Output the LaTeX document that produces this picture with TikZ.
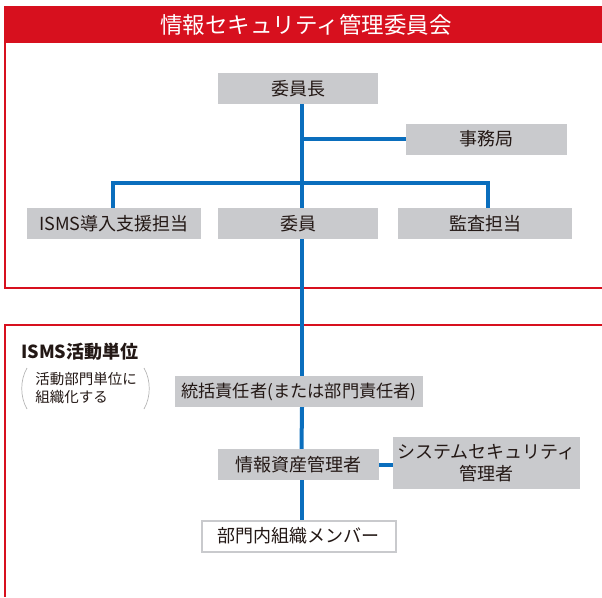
\documentclass[tikz,border=0pt]{standalone}
\usepackage{fontspec}
\setmainfont{Noto Sans CJK JP}
\usetikzlibrary{calc}
\definecolor{jred}{HTML}{D7101E}
\definecolor{jgray}{HTML}{C9CACD}
\definecolor{jblue}{HTML}{0A6EBD}
\definecolor{jtext}{HTML}{231815}
\definecolor{pgray}{HTML}{B5B5B5}
\begin{document}
\begin{tikzpicture}[x=1pt,y=-1pt,
  box/.style={fill=jgray, text=jtext, inner sep=0pt, minimum height=31pt, font=\fontsize{18}{22}\selectfont},
  link/.style={draw=jblue, line width=4pt},
  frame/.style={draw=jred, line width=2.5pt}]
\useasboundingbox (0,0) rectangle (602,597);
% frames
\fill[jred] (4,6) rectangle (602,43);
\node[text=white, font=\fontsize{22.5}{26}\selectfont] (title) at (306,25) {情報セキュリティ管理委員会};
\draw[frame] (5,43) -- (5,288) -- (602,288);
\draw[frame] (602,325) -- (5,325) -- (5,597);
% nodes
\node[box, minimum width=160pt] (cho) at (298,88.5) {委員長};
\node[box, minimum width=161pt] (jimu) at (486.5,139) {事務局};
\node[box, minimum width=174pt] (shien) at (114,223.5) {ISMS導入支援担当};
\node[box, minimum width=160pt] (iin) at (298,223.5) {委員};
\node[box, minimum width=174pt] (kansa) at (485,223.5) {監査担当};
\node[box, minimum width=248pt, font=\fontsize{17.2}{22}\selectfont] (tokatsu) at (299,391.5) {統括責任者(または部門責任者)};
\node[box, minimum width=161pt] (joho) at (298.5,464.5) {情報資産管理者};
\node[box, minimum width=187pt, minimum height=52pt, align=center] (sys) at (486.5,463) {システムセキュリティ\\管理者};
\node[box, fill=white, draw=jgray, line width=2pt, minimum width=194pt] (mem) at (298.5,536) {部門内組織メンバー};
\node[anchor=west, text=jtext, inner sep=0pt, font=\bfseries\fontsize{18}{22}\selectfont] (unit) at (21,352) {ISMS活動単位};
\node[text=jtext, inner sep=0pt, align=left, font=\fontsize{14.5}{18}\selectfont] (note) at (86,388.5) {活動部門単位に\\組織化する};
\draw[pgray, line width=0.7pt] (27,368) .. controls (20,380) and (20,397) .. (27,409);
\draw[pgray, line width=0.7pt] (144,368) .. controls (151,380) and (151,397) .. (144,409);
% connectors
\coordinate (br) at (0,183);
\draw[link] ([xshift=4pt]cho.south) -- ([xshift=4pt]iin.north);
\draw[link] ([xshift=4pt]cho.south |- jimu.west) -- (jimu.west);
\draw[link] ([xshift=-1pt]shien.north) -- ([xshift=-1pt]shien.north |- br) -- ([xshift=3pt]kansa.north |- br) -- ([xshift=3pt]kansa.north);
\draw[link] ([xshift=4pt]iin.south) -- ([xshift=3pt]tokatsu.north);
\draw[link] ([xshift=3pt]tokatsu.south) -- ([xshift=3pt]joho.north);
\draw[link] ([xshift=3pt]joho.south) -- ([xshift=3pt]mem.north);
\draw[link] (joho.east) -- (joho.east -| sys.west);
\end{tikzpicture}
\end{document}
